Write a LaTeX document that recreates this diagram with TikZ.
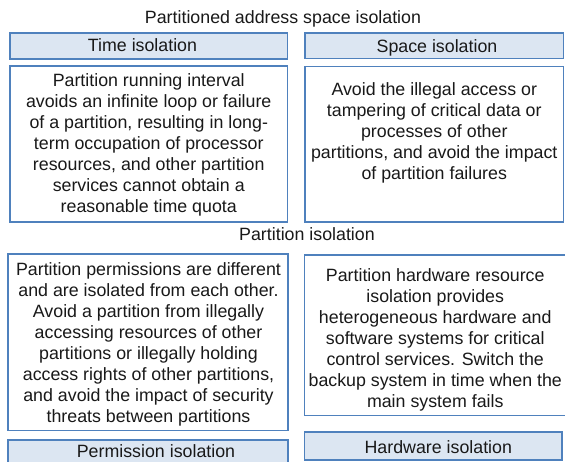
\documentclass[tikz,border=0pt]{standalone}
\usepackage{fontspec}
\setmainfont{Liberation Sans}
\definecolor{bordc}{HTML}{4F81BD}
\definecolor{hdrfill}{HTML}{DCE6F2}
\begin{document}
\begin{tikzpicture}[x=1pt,y=-1pt,
  txt/.style={font=\fontsize{17.8}{21}\selectfont, inner sep=0pt, text=black!90},
  hdrbox/.style={draw=bordc, fill=hdrfill, line width=1.3pt, inner sep=0pt},
  hdrtext/.style={txt, anchor=base},
  descbox/.style={draw=bordc, fill=white, line width=1.3pt, inner sep=0pt},
  desctext/.style={txt, align=center, anchor=north}]
\useasboundingbox (0,0) rectangle (565,462);
\fill[white] (0,0) rectangle (565,462);

% titles
\node[txt, anchor=base] (title) at (283,23.3) {Partitioned address space isolation};
\node[txt, anchor=base] (ptitle) at (307,241) {Partition isolation};

% time isolation
\node[hdrbox, minimum width=277.5pt, minimum height=26pt] (timeH) at (148.75,46) {};
\node[hdrtext] (timeL) at (142.5,52) {Time isolation};
\node[descbox, minimum width=277.5pt, minimum height=156pt] (timeD) at (148.75,144) {};
\node[desctext] (timeT) at (148.75,73) {Partition running interval\\avoids an infinite loop or failure\\of a partition, resulting in long-\\term occupation of processor\\resources, and other partition\\services cannot obtain a\\reasonable time quota};

% space isolation
\node[hdrbox, minimum width=258.5pt, minimum height=25.5pt] (spaceH) at (434.25,45.75) {};
\node[hdrtext] (spaceL) at (437,52.3) {Space isolation};
\node[descbox, minimum width=258.5pt, minimum height=155.5pt] (spaceD) at (434.25,144.25) {};
\node[desctext] (spaceT) at (434.25,82) {Avoid the illegal access or\\tampering of critical data or\\processes of other\\partitions, and avoid the impact\\of partition failures};

% permission isolation
\node[descbox, minimum width=280pt, minimum height=176.5pt] (permD) at (148,342.25) {};
\node[desctext] (permT) at (148.5,262) {Partition permissions are different\\and are isolated from each other.\\Avoid a partition from illegally\\accessing resources of other\\partitions or illegally holding\\access rights of other partitions,\\and avoid the impact of security\\threats between partitions};
\node[hdrbox, minimum width=280pt, minimum height=28pt] (permH) at (148,454) {};
\node[hdrtext] (permL) at (156,457.3) {Permission isolation};

% hardware isolation
\node[descbox, minimum width=261.5pt, minimum height=160.5pt] (hwD) at (435.25,335.25) {};
\node[desctext] (hwT) at (435.25,268) {Partition hardware resource\\isolation provides\\heterogeneous hardware and\\software systems for critical\\control services. Switch the\\backup system in time when the\\main system fails};
\node[hdrbox, minimum width=257.5pt, minimum height=28pt] (hwH) at (433.25,446) {};
\node[hdrtext] (hwL) at (438.3,453) {Hardware isolation};
\end{tikzpicture}
\end{document}
